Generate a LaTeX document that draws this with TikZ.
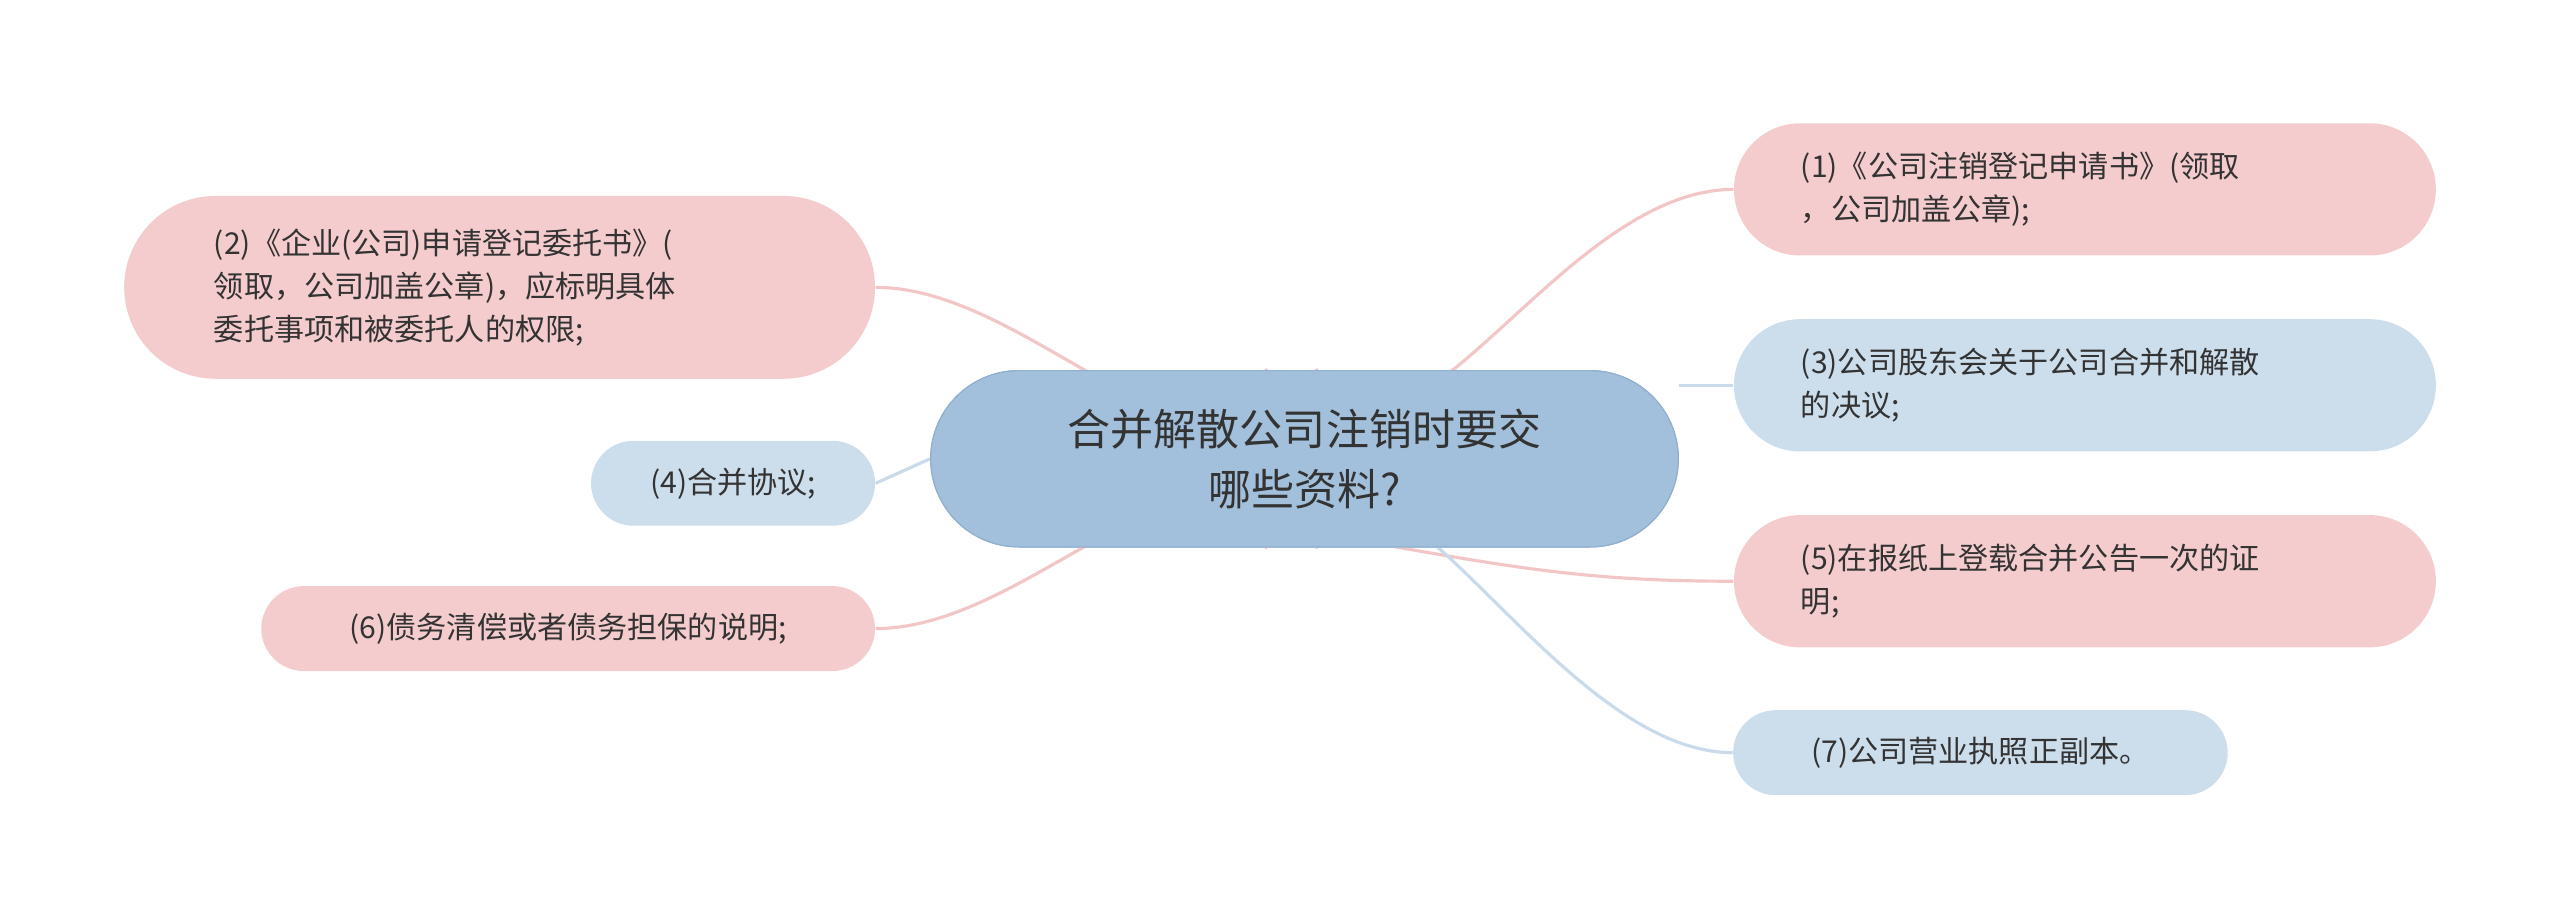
\documentclass[tikz,border=0pt]{standalone}
\usepackage{fontspec}
\setmainfont{Noto Sans CJK SC}
\begin{document}
\definecolor{pinkfill}{HTML}{F5CCCD}
\definecolor{pinkline}{HTML}{F2C6C6}
\definecolor{bluefill}{HTML}{CCDDEC}
\definecolor{blueline}{HTML}{C9DAEA}
\definecolor{mainfill}{HTML}{A2BFDB}
\definecolor{mainline}{HTML}{8FB0D0}
\definecolor{txt}{HTML}{333333}
\begin{tikzpicture}[x=0.02cm,y=-0.02cm,
  leaf/.style={rounded corners=0.52cm,minimum height=1.04cm,inner ysep=2pt,
    text=txt,font=\fontsize{10.5}{15}\selectfont,align=left},
  bigleaf/.style={leaf,rounded corners=0.81cm,minimum height=1.62cm},
  pinkleaf/.style={fill=pinkfill},
  blueleaf/.style={fill=bluefill},
  pinklink/.style={draw=pinkline,line width=1.1pt},
  bluelink/.style={draw=blueline,line width=1.1pt}]
\useasboundingbox (0,0) rectangle (1568,561.6);

% links
\coordinate (ctop) at (806,226);
\coordinate (cbot) at (806,336);
\coordinate (ltop) at (776,226);
\coordinate (lbot) at (776,336);

% center
\node[fill=mainfill,draw=mainline,rounded corners=1.08cm,minimum width=9.16cm,
  minimum height=2.16cm,text=txt,font=\fontsize{15}{21}\selectfont,align=center]
  (main) at (799,281) {合并解散公司注销时要交\\哪些资料?};

% right side
\node[bigleaf,pinkleaf,minimum width=8.6cm,text width=6.96cm,inner xsep=0.82cm]
  (n1) at (1277,116) {(1)《公司注销登记申请书》(领取\\，公司加盖公章);};
\node[bigleaf,blueleaf,minimum width=8.6cm,text width=6.96cm,inner xsep=0.82cm]
  (n3) at (1277,236) {(3)公司股东会关于公司合并和解散\\的决议;};
\node[bigleaf,pinkleaf,minimum width=8.6cm,text width=6.96cm,inner xsep=0.82cm]
  (n5) at (1277,356) {(5)在报纸上登载合并公告一次的证\\明;};
\node[leaf,blueleaf,minimum width=6.06cm,inner xsep=0.5cm]
  (n7) at (1213,461) {(7)公司营业执照正副本。};

% left side
\node[leaf,pinkleaf,rounded corners=1.12cm,minimum width=9.2cm,minimum height=2.24cm,
  text width=7.0cm,inner xsep=1.1cm]
  (n2) at (306,176) {(2)《企业(公司)申请登记委托书》(\\领取，公司加盖公章)，应标明具体\\委托事项和被委托人的权限;};
\node[leaf,blueleaf,minimum width=3.48cm] (n4) at (449,296) {(4)合并协议;};
\node[leaf,pinkleaf,minimum width=7.52cm] (n6) at (348,385) {(6)债务清偿或者债务担保的说明;};

\begin{scope}[on background layer/.try]
\end{scope}
\draw[pinklink] (ctop) to[out=-60,in=180] (n1.west);
\draw[bluelink] (main.east |- n3.west) -- (n3.west);
\draw[pinklink] (855,335) to[out=-10,in=180] (n5.west);
\draw[bluelink] (cbot) to[out=70,in=180] (n7.west);
\draw[pinklink] (ltop) to[out=-120,in=0] (n2.east);
\draw[bluelink] (main.west) -- (n4.east);
\draw[pinklink] (lbot) to[out=120,in=0] (n6.east);
\node[fill=mainfill,draw=mainline,rounded corners=1.08cm,minimum width=9.16cm,
  minimum height=2.16cm,text=txt,font=\fontsize{15}{21}\selectfont,align=center]
  at (main) {合并解散公司注销时要交\\哪些资料?};
\end{tikzpicture}
\end{document}
